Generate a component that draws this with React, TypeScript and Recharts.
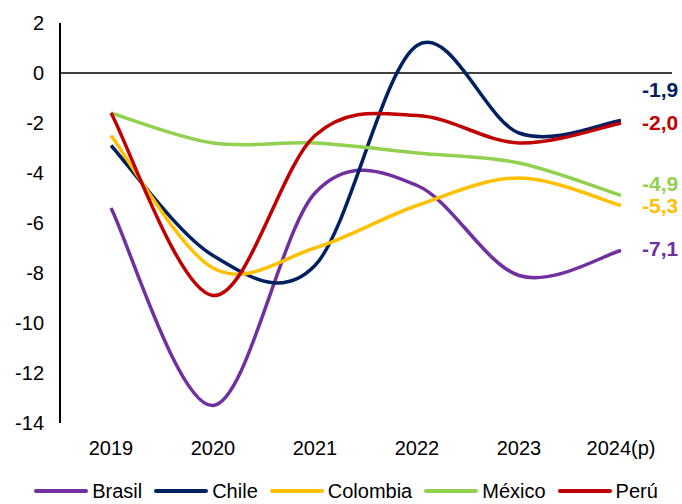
import React from "react";
import { LineChart, Line, XAxis, YAxis, ReferenceLine, Legend } from "recharts";

const YEARS = ["2019", "2020", "2021", "2022", "2023", "2024(p)"];
const BRASIL = [-5.4, -13.3, -4.8, -4.5, -8.1, -7.1];
const CHILE = [-2.9, -7.3, -7.7, 1.1, -2.4, -1.9];
const COLOMBIA = [-2.5, -7.8, -7.0, -5.3, -4.2, -5.3];
const MEXICO = [-1.6, -2.8, -2.8, -3.2, -3.6, -4.9];
const PERU = [-1.6, -8.9, -2.5, -1.7, -2.8, -2.0];
const Y_TICKS = [-14, -12, -10, -8, -6, -4, -2, 0, 2];

const data = YEARS.map((year, i) => ({
  year,
  Brasil: BRASIL[i],
  Chile: CHILE[i],
  Colombia: COLOMBIA[i],
  México: MEXICO[i],
  Perú: PERU[i],
}));

// colour + vertical nudge of the end-of-line value label
const SERIES = [
  { key: "Brasil", color: "#7030A0", labelDy: 0 },
  { key: "Chile", color: "#002060", labelDy: -29 },
  { key: "Colombia", color: "#FFC000", labelDy: 2 },
  { key: "México", color: "#92D050", labelDy: -10 },
  { key: "Perú", color: "#C00000", labelDy: 1 },
];

const FONT = "Arial, 'Liberation Sans', sans-serif";

// Catmull-Rom style smoothing (like spreadsheet "smoothed line")
const smoothCurve = (context: any) => {
  let pts: number[][] = [];
  return {
    areaStart() {},
    areaEnd() {},
    lineStart() {
      pts = [];
    },
    point(x: number, y: number) {
      pts.push([+x, +y]);
    },
    lineEnd() {
      const n = pts.length;
      if (!n) return;
      context.moveTo(pts[0][0], pts[0][1]);
      for (let i = 0; i < n - 1; i++) {
        const p0 = pts[i - 1] || pts[i];
        const p1 = pts[i];
        const p2 = pts[i + 1];
        const p3 = pts[i + 2] || p2;
        context.bezierCurveTo(
          p1[0] + (p2[0] - p0[0]) / 6,
          p1[1] + (p2[1] - p0[1]) / 6,
          p2[0] - (p3[0] - p1[0]) / 6,
          p2[1] - (p3[1] - p1[1]) / 6,
          p2[0],
          p2[1]
        );
      }
    },
  };
};

const endLabel = (color: string, dy: number) => (props: any) => {
  const { x, y, index, value } = props;
  if (index !== YEARS.length - 1) return null;
  return (
    <text
      x={x + 21}
      y={y + dy}
      fill={color}
      fontFamily={FONT}
      fontSize={21}
      fontWeight="bold"
      dominantBaseline="middle"
    >
      {Number(value).toFixed(1).replace(".", ",")}
    </text>
  );
};

const LegendContent = () => (
  <div
    style={{
      display: "flex",
      justifyContent: "center",
      alignItems: "center",
      fontFamily: FONT,
      fontSize: 20,
      lineHeight: "22px",
      color: "#000",
      paddingTop: 6,
      paddingLeft: 32,
    }}
  >
    {SERIES.map((s) => (
      <div key={s.key} style={{ display: "flex", alignItems: "center", marginRight: 12 }}>
        <span
          style={{
            display: "inline-block",
            width: 54,
            height: 4,
            borderRadius: 2,
            background: s.color,
            marginRight: 4,
          }}
        />
        <span>{s.key}</span>
      </div>
    ))}
  </div>
);

export default function App() {
  return (
    <div style={{ position: "absolute", left: 0, top: 0, width: 682, height: 504, background: "#fff" }}>
      <LineChart width={682} height={504} data={data} margin={{ top: 23, right: 10, left: 0, bottom: 0 }}>
        <XAxis
          dataKey="year"
          axisLine={false}
          tickLine={false}
          tickMargin={12}
          height={51}
          padding={{ left: 51, right: 51 }}
          tick={{ fill: "#000", fontSize: 20, fontFamily: FONT }}
        />
        <YAxis
          domain={[-14, 2]}
          ticks={Y_TICKS}
          width={60}
          interval={0}
          axisLine={{ stroke: "#000", strokeWidth: 2 }}
          tickLine={false}
          tickMargin={10}
          tick={{ fill: "#000", fontSize: 20, fontFamily: FONT }}
        />
        <ReferenceLine y={0} stroke="#000" strokeWidth={1.5} />
        {SERIES.map((s) => (
          <Line
            key={s.key}
            dataKey={s.key}
            type={smoothCurve as any}
            stroke={s.color}
            strokeWidth={3.5}
            dot={false}
            activeDot={false}
            isAnimationActive={false}
            label={endLabel(s.color, s.labelDy)}
          />
        ))}
        <Legend verticalAlign="bottom" height={30} content={<LegendContent />} />
      </LineChart>
    </div>
  );
}
